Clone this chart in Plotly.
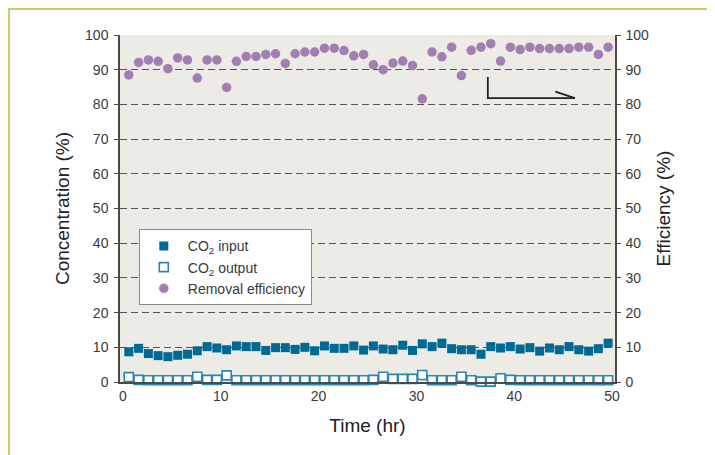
import plotly.graph_objects as go

time_hr = [0.6, 1.6, 2.6, 3.6, 4.6, 5.6, 6.6, 7.6, 8.6, 9.6,
           10.6, 11.6, 12.6, 13.6, 14.6, 15.6, 16.6, 17.6, 18.6, 19.6,
           20.6, 21.6, 22.6, 23.6, 24.6, 25.6, 26.6, 27.6, 28.6, 29.6,
           30.6, 31.6, 32.6, 33.6, 34.6, 35.6, 36.6, 37.6, 38.6, 39.6,
           40.6, 41.6, 42.6, 43.6, 44.6, 45.6, 46.6, 47.6, 48.6, 49.6]

co2_input = [8.7, 9.7, 8.2, 7.6, 7.3, 7.7, 8.0, 9.0, 10.2, 9.8,
             9.3, 10.4, 10.2, 10.2, 9.1, 9.9, 9.9, 9.4, 10.0, 9.0,
             10.4, 9.7, 9.7, 10.4, 9.2, 10.4, 9.5, 9.3, 10.6, 9.1,
             11.0, 10.2, 11.2, 9.6, 9.3, 9.3, 8.0, 10.2, 9.8, 10.2,
             9.5, 9.9, 8.9, 9.8, 9.3, 10.2, 9.3, 8.9, 9.6, 11.2]

co2_output = [1.4, 0.6, 0.5, 0.5, 0.5, 0.5, 0.5, 1.5, 0.6, 0.6,
              1.9, 0.5, 0.5, 0.5, 0.5, 0.5, 0.5, 0.5, 0.5, 0.5,
              0.5, 0.5, 0.5, 0.5, 0.5, 0.6, 1.5, 0.9, 0.9, 0.9,
              2.0, 0.5, 0.5, 0.5, 1.5, 0.5, 0.1, 0.1, 1.1, 0.6,
              0.5, 0.5, 0.5, 0.5, 0.5, 0.5, 0.5, 0.5, 0.5, 0.5]

removal_eff = [88.5, 92.1, 92.8, 92.4, 90.3, 93.4, 92.8, 87.6, 92.8, 92.8,
               84.9, 92.4, 93.8, 93.8, 94.4, 94.6, 91.8, 94.6, 95.1, 95.1,
               96.2, 96.2, 95.5, 94.0, 94.4, 91.4, 90.0, 91.9, 92.5, 91.2,
               81.6, 95.1, 93.7, 96.5, 88.3, 95.6, 96.5, 97.5, 92.5, 96.5,
               95.8, 96.5, 96.1, 96.1, 96.1, 96.1, 96.5, 96.5, 94.4, 96.5]

y_ticks = [0, 10, 20, 30, 40, 50, 60, 70, 80, 90, 100]
x_ticks = [0, 10, 20, 30, 40, 50]

FONT = "Liberation Sans, Arial, sans-serif"
TXT = "#3a3a3a"
AX = "#4a4a4a"

# page has an 8px body margin; figure sized to fit the 715x455 window
W, H = 707, 447
ML, MT, PW, PH = 112, 27, 495, 347

fig = go.Figure()
fig.add_trace(go.Scatter(
    x=time_hr, y=co2_input, mode="markers", name="CO<sub>2</sub> input",
    marker=dict(symbol="square", size=9, color="#006a94", line=dict(width=0)),
    cliponaxis=False))
fig.add_trace(go.Scatter(
    x=time_hr, y=co2_output, mode="markers", name="CO<sub>2</sub> output",
    marker=dict(symbol="square", size=9, color="white",
                line=dict(width=1.6, color="#2a86ad")),
    cliponaxis=False))
fig.add_trace(go.Scatter(
    x=time_hr, y=removal_eff, mode="markers", name="Removal efficiency",
    marker=dict(symbol="circle", size=9.5, color="#a27fb3", line=dict(width=0)),
    yaxis="y2", cliponaxis=False))

grid = dict(showgrid=True, gridcolor="#555555", gridwidth=1.1, griddash="7px,4px")

fig.update_layout(
    template="none",
    width=W, height=H,
    margin=dict(l=ML, r=W - ML - PW, t=MT, b=H - MT - PH, pad=0),
    paper_bgcolor="white", plot_bgcolor="#ecebe6",
    font=dict(family=FONT, size=14, color=TXT),
    showlegend=True,
    legend=dict(x=0.038, y=0.44, xanchor="left", yanchor="top",
                bgcolor="white", bordercolor="#8a8a8a", borderwidth=1,
                font=dict(family=FONT, size=14, color=TXT),
                tracegroupgap=0, itemwidth=38, entrywidth=176,
                entrywidthmode="pixels"),
    xaxis=dict(range=[-0.3, 50.3], tickvals=x_ticks, ticks="", automargin=False,
               showline=True, linecolor=AX, linewidth=1.5, showgrid=False,
               zeroline=False, tickfont=dict(size=14, color=TXT),
               title=dict(text="Time (hr)", font=dict(size=19, color="#222"),
                          standoff=16)),
    yaxis=dict(range=[0, 100], tickvals=y_ticks, ticks="outside", ticklen=4,
               automargin=False, ticklabelstandoff=3,
               tickcolor=AX, showline=True, linecolor=AX, linewidth=1.5,
               zeroline=False, tickfont=dict(size=14, color=TXT),
               title=dict(text="Concentration (%)", font=dict(size=19, color="#222"),
                          standoff=10), **grid),
    yaxis2=dict(range=[0, 100], tickvals=y_ticks, ticks="outside", ticklen=4,
                automargin=False, ticklabelstandoff=2,
                tickcolor=AX, showline=True, linecolor=AX, linewidth=1.5,
                overlaying="y", side="right", showgrid=False, zeroline=False,
                tickfont=dict(size=14, color=TXT),
                title=dict(text="Efficiency (%)", font=dict(size=19, color="#222"),
                           standoff=9)),
    shapes=[
        dict(type="rect", xref="paper", yref="paper",
             x0=(1 - ML) / PW, x1=(W + 20 - ML) / PW,
             y0=(MT + PH - (H + 20)) / PH, y1=(MT + PH - 1) / PH,
             line=dict(color="#c3d069", width=2), fillcolor="rgba(0,0,0,0)",
             layer="below"),
        dict(type="path", xref="x", yref="y2",
             path="M 37.3,87.9 L 37.3,81.8 L 46.2,81.8",
             line=dict(color="#222222", width=1.8)),
        dict(type="line", xref="x", yref="y2", x0=44.2, y0=83.7, x1=46.2, y1=81.8,
             line=dict(color="#222222", width=1.8)),
    ],
)

fig.write_html("out.html")
